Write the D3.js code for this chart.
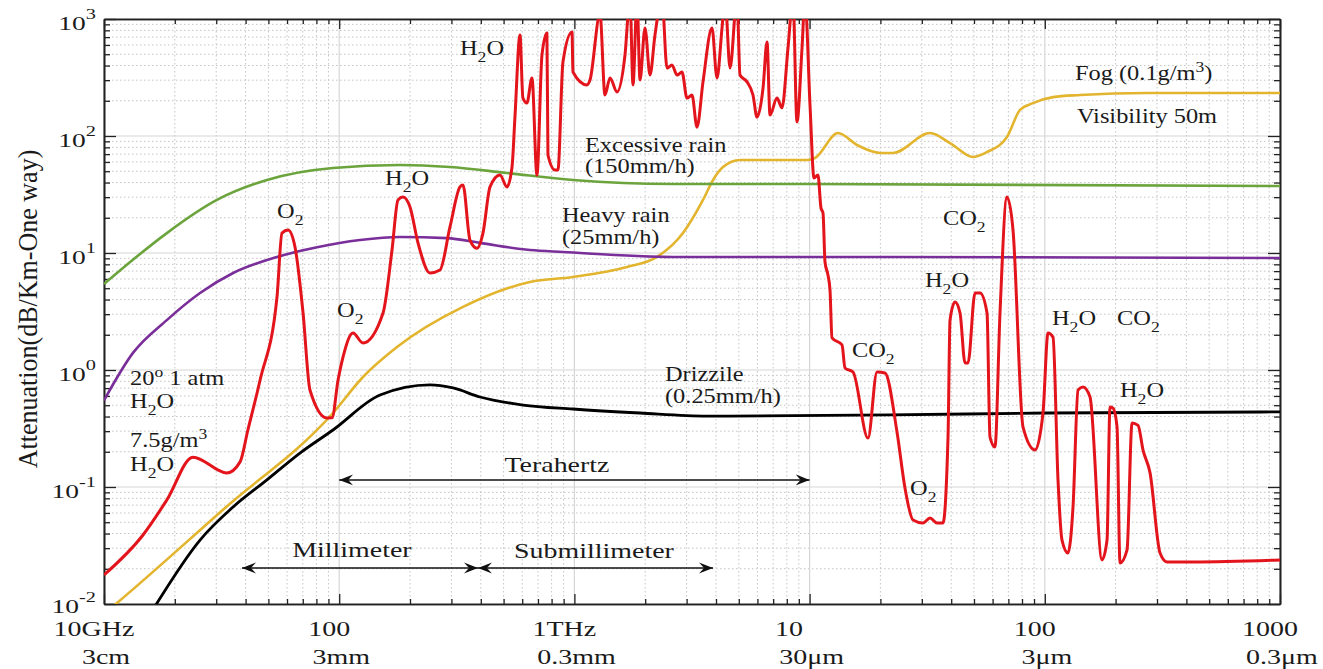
<!DOCTYPE html>
<html><head><meta charset="utf-8">
<script src="https://cdn.jsdelivr.net/npm/d3@7"></script>
<style>
body{margin:0;background:#fff;}
svg text{font-family:"Liberation Serif","Times New Roman",serif;fill:#1a1a1a;}
</style></head><body>
<svg id="chart" width="1323" height="669"></svg>
<script>
// ---------------- DATA (frequency in GHz, attenuation in dB/km) ----------------
const atmospheric = [[10,0.0177],[14.65,0.0389],[18.5,0.0774],[23.9,0.180],[33.3,0.132],[37.9,0.164],[40.9,0.307],[46.1,0.822],[54.4,4.21],[57.1,14.8],[60.6,15.7],[64.9,11.2],[70.2,3.07],[75.1,0.675],[88.7,0.389],[93.2,0.39],[98.9,0.822],[103.8,1.29],[114.5,2.07],[126.2,1.70],[153.6,3.07],[167.7,10.6],[177.8,28.4],[186.8,30.1],[200,24.7],[216.3,12.2],[243.2,6.75],[268.3,7.15],[295.8,16.7],[326.3,36.7],[335.9,38.1],[359.8,12.9],[385.4,11.0],[408.6,14.8],[437.8,36.7],[482.6,46.4],[516.8,36.7],[543,54.3],[558.8,145],[587,730],[604,211],[628,191],[660,313],[693,46.4],[728,492],[764,760],[772,68.8],[827,51.2],[851,51.2],[894,429],[977,774],[986,352],[1131,273],[1165,301],[1285,1100],[1349,224],[1417,313],[1518,238],[1641,492],[1723,1500],[1775,273],[1846,1500],[1901,301],[1996,838],[2096,332],[2201,730],[2357,1500],[2476,381],[2600,404],[2731,332],[2867,352],[3011,211],[3162,224],[3321,119],[3522,290],[3846,838],[4039,313],[4243,838],[4369,1500],[4589,381],[4913,1500],[5059,332],[5420,290],[5745,224],[5975,145],[6339,257],[6592,636],[6786,151],[7266,211],[7631,174],[8094,565],[8499,1500],[8837,132],[9285,565],[9556,1500],[10040,184],[10440,43.8],[10856,46.4],[11180,24.2],[11402,22.0],[11628,8.38],[11969,6.48],[12210,4.83],[12452,1.88],[13734,1.64],[14142,1.04],[15294,0.962],[17713,0.262],[19350,0.962],[20923,0.943],[23530,0.295],[25443,0.098],[27520,0.0522],[30340,0.0492],[32510,0.0543],[34800,0.0492],[36900,0.0492],[38770,0.267],[39540,2.67],[41500,3.81],[43610,3.07],[45790,1.15],[47160,1.15],[50510,4.55],[53030,4.55],[56800,3.07],[58480,0.267],[61400,0.220],[64490,3.07],[69050,30.1],[73260,15.7],[80780,0.326],[90850,0.207],[98240,0.429],[103180,2.07],[108360,1.91],[113800,0.115],[118340,0.0352],[125490,0.0273],[131820,0.0675],[138460,0.675],[145370,0.716],[155700,0.588],[175100,0.0238],[183900,0.0352],[189300,0.483],[195000,0.472],[202800,0.326],[208800,0.0224],[223700,0.029],[234900,0.352],[249100,0.336],[261600,0.207],[280200,0.132],[309000,0.0273],[330800,0.0229],[426600,0.0229],[1000000,0.0238]];

const excessiveRain = [[10,5.43],[13.55,9.06],[18.5,14.8],[30.2,28.4],[49.3,42.1],[94.1,53.3],[181.4,56.5],[295.8,54.3],[516.8,48.3],[986,42.1],[2626,38.9],[9750,38.9],[1000000,37.4]];

const heavyRain = [[10,0.55],[13.28,1.40],[18.5,2.67],[25.6,4.55],[35.4,6.75],[54.4,9.25],[80.5,11.2],[122.6,12.9],[181.4,13.7],[287.3,13.4],[396.8,12.2],[647,10.6],[894,10.2],[2626,9.25],[21980,9.25],[1000000,9.06]];

const fog = [[10,0.00822],[11.36,0.0102],[32.7,0.0662],[94.1,0.429],[126.2,0.871],[176.1,1.57],[336,3.46],[647,5.65],[986,6.24],[1674,7.59],[2245,9.25],[2895,14.8],[3522,28.4],[3885,42.1],[4284,54.3],[5059,62.4],[9750,62.4],[10544,64.9],[13205,106],[15905,83.8],[19920,71.6],[22620,71.6],[32510,106],[39540,87.1],[49520,66.2],[56800,73.0],[69050,98.1],[78450,167],[89090,191],[108360,215],[141200,224],[272000,233],[1000000,233]];

const drizzle = [[16.5,0.0096],[25.6,0.0352],[35.4,0.0675],[49.3,0.115],[68.1,0.195],[94.1,0.307],[149.1,0.611],[243.2,0.745],[304.7,0.702],[396.8,0.588],[604.6,0.502],[986,0.464],[1901,0.429],[3663,0.404],[21980,0.413],[102200,0.429],[1000000,0.438]];

const xTickValues = [10,100,1000,1e4,1e5,1e6];
const xFreqLabels = ["10GHz","100","1THz","10   ","100","1000"];
const xWaveLabels = ["3cm","3mm","0.3mm","30\u03bcm","3\u03bcm","0.3\u03bcm"];
const yTickValues = [0.01,0.1,1,10,100,1000];
const yTickExponents = ["-2","-1","0","1","2","3"];

const bands = [
  {label:"Terahertz", from:100, to:10000, at:0.115, labelF:843, labelA:0.134},
  {label:"Millimeter", from:38.6, to:389, at:0.0203, labelF:113.3, labelA:0.0252},
  {label:"Submillimeter", from:389, to:3885, at:0.0203, labelF:1211, labelA:0.0247}
];

const notes = [
  {t:"O_{2}", f:54.4, a:19.9},
  {t:"O_{2}", f:97.9, a:2.84},
  {t:"H_{2}O", f:156.6, a:38.1},
  {t:"H_{2}O", f:326.3, a:492},
  {t:"Excessive rain", f:1109, a:73},
  {t:"(150mm/h)", f:1109, a:48.3},
  {t:"Heavy rain", f:885, a:18.4},
  {t:"(25mm/h)", f:885, a:11.9},
  {t:"Fog (0.1g/m^{3})", f:134300, a:301},
  {t:"Visibility 50m", f:137000, a:129},
  {t:"CO_{2}", f:36900, a:17.3},
  {t:"H_{2}O", f:30950, a:5.12},
  {t:"CO_{2}", f:15140, a:1.29},
  {t:"H_{2}O", f:107300, a:2.42},
  {t:"CO_{2}", f:202800, a:2.42},
  {t:"H_{2}O", f:208800, a:0.588},
  {t:"O_{2}", f:26730, a:0.0855},
  {t:"Drizzile", f:2427, a:0.805},
  {t:"(0.25mm/h)", f:2427, a:0.522},
  {t:"20^{o} 1 atm", f:12.9, a:0.745},
  {t:"H_{2}O", f:12.9, a:0.473},
  {t:"7.5g/m^{3}", f:12.9, a:0.22},
  {t:"H_{2}O", f:12.9, a:0.137}
];

// ---------------- DRAWING ----------------
const M = {left:104, right:1280, top:19, bottom:604};
const svg = d3.select("#chart");
const x = d3.scaleLog().domain([10,1e6]).range([M.left,M.right]);
const y = d3.scaleLog().domain([0.01,1000]).range([M.bottom,M.top]);

function minorTicks(scale){
  const [a,b] = scale.domain(); const out=[];
  for(let p=Math.log10(a); p<Math.log10(b); p++){
    for(let k=2;k<=9;k++) out.push(k*Math.pow(10,p));
  }
  return out;
}
const xMinor = minorTicks(x), yMinor = minorTicks(y);

// grid
const grid = svg.append("g");
grid.selectAll(".gxm").data(xMinor).join("line")
  .attr("x1",d=>x(d)).attr("x2",d=>x(d)).attr("y1",M.top).attr("y2",M.bottom)
  .attr("stroke","#c4c4c4").attr("stroke-width",1).attr("stroke-dasharray","1.5,2.5");
grid.selectAll(".gym").data(yMinor).join("line")
  .attr("y1",d=>y(d)).attr("y2",d=>y(d)).attr("x1",M.left).attr("x2",M.right)
  .attr("stroke","#c4c4c4").attr("stroke-width",1).attr("stroke-dasharray","1.5,2.5");
grid.selectAll(".gxM").data(xTickValues).join("line")
  .attr("x1",d=>x(d)).attr("x2",d=>x(d)).attr("y1",M.top).attr("y2",M.bottom)
  .attr("stroke","#d6d6d6").attr("stroke-width",1.2);
grid.selectAll(".gyM").data(yTickValues).join("line")
  .attr("y1",d=>y(d)).attr("y2",d=>y(d)).attr("x1",M.left).attr("x2",M.right)
  .attr("stroke","#d6d6d6").attr("stroke-width",1.2);

// axes (inward ticks on all four sides)
function styleAxis(g){
  g.select(".domain").attr("stroke","#222").attr("stroke-width",1.6);
  g.selectAll(".tick line").attr("stroke","#222").attr("stroke-width",1.3);
  g.selectAll(".tick text").remove();
}
const axes = svg.append("g");
axes.append("g").attr("transform",`translate(0,${M.bottom})`)
  .call(d3.axisBottom(x).tickValues(xMinor).tickSizeInner(-5).tickSizeOuter(0).tickFormat(""))
  .call(styleAxis);
axes.append("g").attr("transform",`translate(0,${M.bottom})`)
  .call(d3.axisBottom(x).tickValues(xTickValues).tickSizeInner(-10).tickSizeOuter(0).tickFormat(""))
  .call(styleAxis);
axes.append("g").attr("transform",`translate(0,${M.top})`)
  .call(d3.axisTop(x).tickValues(xMinor).tickSizeInner(-5).tickSizeOuter(0).tickFormat(""))
  .call(styleAxis);
axes.append("g").attr("transform",`translate(0,${M.top})`)
  .call(d3.axisTop(x).tickValues(xTickValues).tickSizeInner(-10).tickSizeOuter(0).tickFormat(""))
  .call(styleAxis);
axes.append("g").attr("transform",`translate(${M.left},0)`)
  .call(d3.axisLeft(y).tickValues(yMinor).tickSizeInner(-6).tickSizeOuter(0).tickFormat(""))
  .call(styleAxis);
axes.append("g").attr("transform",`translate(${M.left},0)`)
  .call(d3.axisLeft(y).tickValues(yTickValues).tickSizeInner(-12).tickSizeOuter(0).tickFormat(""))
  .call(styleAxis);
axes.append("g").attr("transform",`translate(${M.right},0)`)
  .call(d3.axisRight(y).tickValues(yMinor).tickSizeInner(-6).tickSizeOuter(0).tickFormat(""))
  .call(styleAxis);
axes.append("g").attr("transform",`translate(${M.right},0)`)
  .call(d3.axisRight(y).tickValues(yTickValues).tickSizeInner(-12).tickSizeOuter(0).tickFormat(""))
  .call(styleAxis);

// rich text helper: _{sub} and ^{sup}
function rich(sel, str, size){
  const parts = str.split(/(_\{[^}]*\}|\^\{[^}]*\})/).filter(s=>s.length);
  let shift = 0;
  parts.forEach(p=>{
    let s=0, fs=size, t=p;
    if(p.startsWith("_{")){ s=size*0.33; fs=size*0.72; t=p.slice(2,-1); }
    else if(p.startsWith("^{")){ s=-size*0.42; fs=size*0.72; t=p.slice(2,-1); }
    sel.append("tspan").attr("dy", s-shift).attr("font-size",fs).text(t);
    shift = s;
  });
}

// x tick labels
const xl = svg.append("g");
xTickValues.forEach((v,i)=>{
  xl.append("text").attr("text-anchor","middle").style("white-space","pre")
    .attr("font-size",20)
    .attr("transform",`translate(${x(v)-10},${M.bottom+32}) scale(1.4,1)`)
    .text(xFreqLabels[i]);
  xl.append("text").attr("text-anchor","middle")
    .attr("font-size",20)
    .attr("transform",`translate(${x(v)+2},${M.bottom+60}) scale(1.4,1)`)
    .text(xWaveLabels[i]);
});

// y tick labels 10^n
yTickValues.forEach((v,i)=>{
  const t = svg.append("text").attr("text-anchor","end")
    .attr("transform",`translate(${M.left-8},${y(v)+(v===0.01?9:11)}) scale(1.45,1)`);
  t.append("tspan").attr("font-size",19).text("10");
  t.append("tspan").attr("font-size",14).attr("dy",-11).text(yTickExponents[i]);
});

// y axis title
svg.append("text").attr("text-anchor","middle").attr("font-size",21)
  .attr("transform","translate(37,309) rotate(-90) scale(1.24,1.3)")
  .text("Attenuation(dB/Km-One way)");

// lines
svg.append("defs").append("clipPath").attr("id","plotclip").append("rect")
  .attr("x",M.left).attr("y",M.top).attr("width",M.right-M.left).attr("height",M.bottom-M.top);
const line = d3.line().x(d=>x(d[0])).y(d=>y(d[1])).curve(d3.curveMonotoneX);
const lines = svg.append("g").attr("clip-path","url(#plotclip)");
[[fog,"#e3b52e",2.6],[excessiveRain,"#6ba43c",2.6],[heavyRain,"#7a2e9a",2.6],[drizzle,"#000000",2.8],[atmospheric,"#e3141b",3]]
  .forEach(([data,col,w])=>{
    lines.append("path").datum(data).attr("d",line).attr("fill","none")
      .attr("stroke",col).attr("stroke-width",w).attr("stroke-linejoin","round");
  });

// arrows
const defs = svg.select("defs");
defs.append("marker").attr("id","arr").attr("viewBox","-14 -6 15 12")
  .attr("refX",0).attr("refY",0).attr("markerWidth",15).attr("markerHeight",12)
  .attr("markerUnits","userSpaceOnUse").attr("orient","auto-start-reverse")
  .append("path").attr("d","M0,0 L-14,-5.5 L-9,0 L-14,5.5 Z").attr("fill","#111");
bands.forEach(b=>{
  svg.append("line").attr("x1",x(b.from)).attr("x2",x(b.to)).attr("y1",y(b.at)).attr("y2",y(b.at))
    .attr("stroke","#111").attr("stroke-width",1.5)
    .attr("marker-start","url(#arr)").attr("marker-end","url(#arr)");
  svg.append("text").attr("text-anchor","middle").attr("font-size",22)
    .attr("transform",`translate(${x(b.labelF)},${y(b.labelA)}) scale(1.27,1)`)
    .text(b.label);
});

// annotations
notes.forEach(n=>{
  const t = svg.append("text").attr("text-anchor","start")
    .attr("transform",`translate(${x(n.f)},${y(n.a)}) scale(1.22,1)`);
  rich(t, n.t, 20);
});
</script>
</body></html>
